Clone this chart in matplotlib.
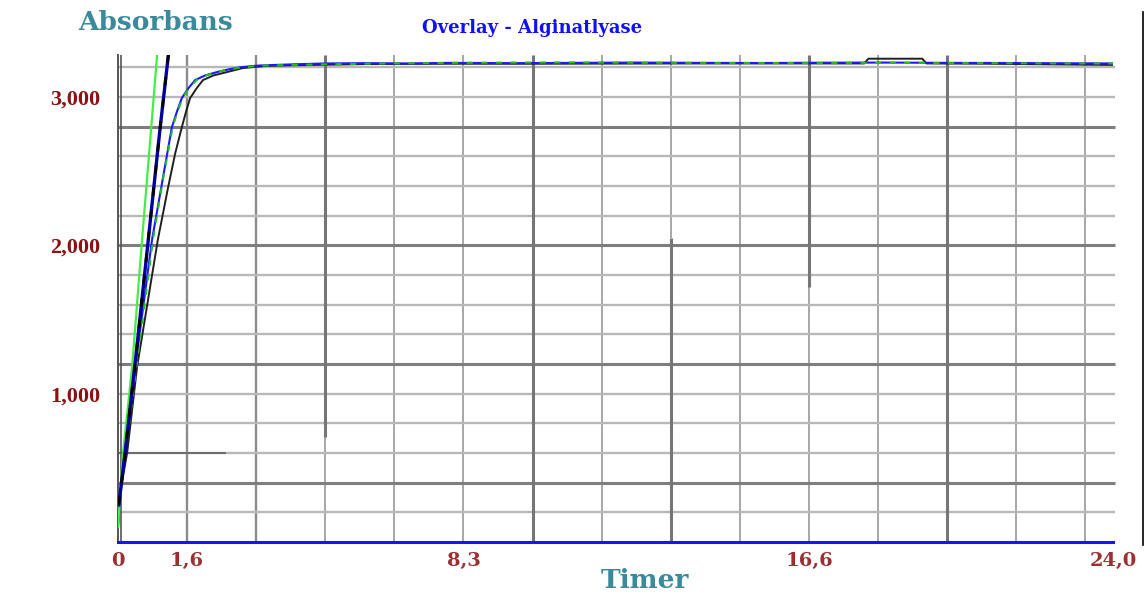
import numpy as np
import matplotlib
matplotlib.use("Agg")
import matplotlib.pyplot as plt
from matplotlib.lines import Line2D

# data (timer, absorbans)
t_green = [0, 0.12, 0.34, 0.58, 0.94, 1.0]
a_green = [100, 600, 1180, 2036, 3270, 3480]

t_navy = [0.02, 0.17, 0.45, 0.73, 1.0, 1.21, 1.26]
a_navy = [250, 600, 1300, 2036, 2750, 3270, 3400]

t_blue = [0, 0.05, 0.17, 0.45, 0.82, 1.09, 1.30, 1.42, 1.54, 1.70, 1.86, 2.10, 2.39, 2.65,
          2.94, 3.4, 4.2, 5.0, 6.0, 7.0, 8.0, 9.5, 11.0, 12.5, 14.0, 15.5, 17.0, 18.5,
          20.0, 21.5, 23.0, 24.0]
a_blue = [100, 300, 600, 1250, 2036, 2464, 2797, 2900, 2993, 3060, 3114, 3145, 3168, 3185,
          3200, 3212, 3220, 3226, 3228, 3226, 3230, 3228, 3230, 3232, 3230, 3229, 3231, 3232,
          3230, 3229, 3227, 3226]

t_green2 = [0.05, 0.2, 0.5, 0.85, 1.1, 1.32, 1.44, 1.56, 1.72, 1.9, 2.15, 2.4, 2.7, 3.0,
            3.5, 5, 6.5, 8, 9.5, 11, 12.5, 14, 16, 18, 20, 22, 24]
a_green2 = [300, 650, 1300, 2050, 2470, 2800, 2905, 2995, 3062, 3115, 3147, 3170, 3187,
            3200, 3212, 3220, 3226, 3230, 3232, 3233, 3231, 3230, 3229, 3230, 3229, 3227, 3226]

t_black = [0, 0.03, 0.22, 0.46, 0.96, 1.21, 1.38, 1.54, 1.64, 1.74, 1.90, 2.05, 2.30, 2.63,
           3.01, 3.6, 4.5, 6.0, 8.0, 10.0, 12.0, 14.0, 16.0, 18.0, 18.1, 19.4, 19.5, 21.0,
           22.5, 24.0]
a_black = [100, 300, 600, 1180, 2036, 2393, 2620, 2797, 2900, 2993, 3060, 3114, 3145, 3168,
           3195, 3210, 3215, 3222, 3224, 3224, 3225, 3226, 3226, 3226, 3258, 3258, 3226, 3224,
           3220, 3216]

x_ticks = [0, 5 / 3, 25 / 3, 50 / 3, 24]
x_labels = ["0", "1,6", "8,3", "16,6", "24,0"]
y_ticks = [1000, 2000, 3000]
y_labels = ["1,000", "2,000", "3,000"]

W, H = 1147, 597
fig = plt.figure(figsize=(W / 100, H / 100), dpi=100)
ax = fig.add_axes([118 / W, 55 / H, 995 / W, 487 / H])
ax.set_xlim(0, 24)
ax.set_ylim(0, 3283)

# grid
thin_v = dict(color="#a0a0a0", lw=1.3, zorder=1)
mid_v = dict(color="#8c8c8c", lw=1.7, zorder=1)
thick_v = dict(color="#767676", lw=2.2, zorder=1.5)
step = 5 / 3
for k in range(1, 15):
    x = k * step
    if k in (1, 2):
        ax.vlines(x, 0, 3283, **mid_v)
    elif k in (6, 12):
        ax.vlines(x, 0, 3283, **thick_v)
    elif k == 3:
        ax.vlines(x, 0, 708, **thin_v)
        ax.vlines(x, 708, 3283, **thick_v)
    elif k == 8:
        ax.vlines(x, 0, 2050, **thick_v)
        ax.vlines(x, 2050, 3283, **thin_v)
    elif k == 10:
        ax.vlines(x, 0, 1719, **thin_v)
        ax.vlines(x, 1719, 3283, **thick_v)
    else:
        ax.vlines(x, 0, 3283, **thin_v)

for k in range(1, 17):
    y = 200 * k
    if k in (2, 6, 10, 14):
        ax.hlines(y, 0, 24.05, color="#7e7e7e", lw=2.2, zorder=1.2, clip_on=False)
    else:
        ax.hlines(y, 0, 24.05, color="#b8b8b8", lw=1.7, zorder=1, clip_on=False)
ax.hlines(600, 0, 2.6, color="#666666", lw=1.3, zorder=1.3)

# curves
ax.plot(t_black, a_black, color="#202020", lw=1.4, zorder=3)
ax.plot(t_blue, a_blue, color="#1a1aff", lw=1.5, zorder=4)
ax.plot(t_green2, a_green2, color="#22bb22", lw=1.5, dashes=(3, 4), zorder=5)
ax.plot(t_navy, a_navy, color="#00009a", lw=2.4, zorder=6)
ax.plot(t_navy, a_navy, color="#000000", lw=2.0, dashes=(3, 5), zorder=7)
ax.plot(t_green, a_green, color="#44ee44", lw=1.6, zorder=5)

# axes frame
for s in ("top", "right"):
    ax.spines[s].set_visible(False)
ax.spines["bottom"].set_color("#1414ff")
ax.spines["bottom"].set_linewidth(2.2)
ax.spines["bottom"].set_zorder(8)
ax.spines["left"].set_color("#555555")
ax.spines["left"].set_linewidth(1.4)
ax.axvline(0.08, color="#555555", lw=1.2, zorder=2)

ax.set_xticks(x_ticks)
ax.set_xticklabels(x_labels, color="#9c3030", fontsize=14, fontweight="bold",
                   family="DejaVu Serif")
ax.set_yticks(y_ticks)
ax.set_yticklabels(y_labels, color="#8b1212", fontsize=16, fontweight="bold",
                   family="Liberation Serif")
ax.tick_params(axis="x", length=0, pad=7)
ax.tick_params(axis="y", length=0, pad=13)

teal = "#3a8a9c"
ax.set_xlabel("Timer", color=teal, fontsize=19, fontweight="bold", family="DejaVu Serif",
              va="center")
ax.xaxis.set_label_coords((645 - 118) / 995, -(580 - 542) / 487)
ax.set_ylabel("Absorbans", color=teal, fontsize=19, fontweight="bold",
              family="DejaVu Serif", rotation=0, va="center", ha="center")
ax.yaxis.set_label_coords((156 - 118) / 995, (542 - 23) / 487)

fig.text(532 / W, 1 - 28 / H, "Overlay - Alginatlyase", color="#1010ff", fontsize=13,
         fontweight="bold", family="DejaVu Serif", ha="center", va="center")

fig.add_artist(Line2D([1143 / W, 1143 / W], [1 - 12 / H, 1 - 545 / H],
                      color="black", lw=1.2))

fig.savefig("out.png", dpi=100)
